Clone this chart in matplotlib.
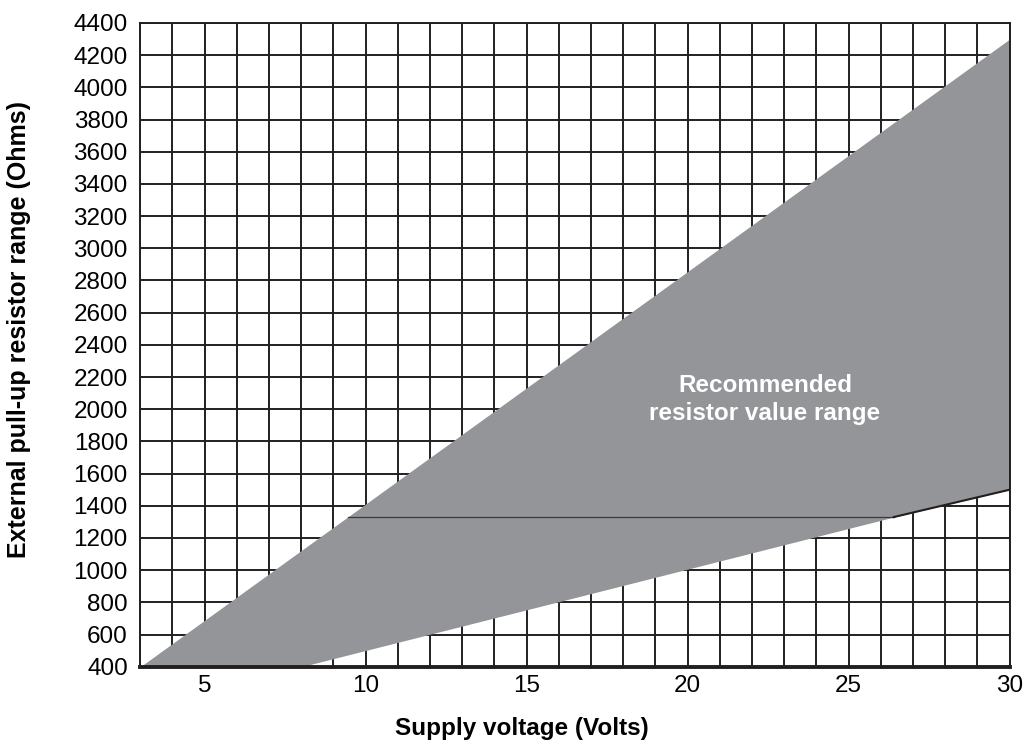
import numpy as np
import matplotlib.pyplot as plt

plt.rcParams['font.family'] = ['Liberation Sans', 'DejaVu Sans']

# boundaries of the recommended region (volts, ohms)
upper_v = [3, 30]
upper_r = [400, 4300]
lower_v = [3, 8, 26.4, 30]
lower_r = [400, 400, 1330, 1500]
shelf_v = [9.45, 26.4]   # thin line drawn inside the region
shelf_r = [1330, 1330]

x_ticks = [5, 10, 15, 20, 25, 30]
y_ticks = list(range(400, 4401, 200))

fig = plt.figure(figsize=(10.24, 7.4), dpi=100)
ax = fig.add_axes([0.137, 0.099, 0.849, 0.870])

# fill between upper and lower boundary on a common x grid
xs = np.array(sorted(set(upper_v + lower_v)))
up = np.interp(xs, upper_v, upper_r)
lo = np.interp(xs, lower_v, lower_r)
ax.fill_between(xs, lo, up, color='#939598', linewidth=0, zorder=2)
ax.plot(shelf_v, shelf_r, color='#3a3a3c', linewidth=0.9, zorder=3)
ax.plot(lower_v[2:], lower_r[2:], color='#231f20', linewidth=1.5, zorder=3)

ax.text(22.4, 2060, 'Recommended\nresistor value range', color='white',
        fontsize=17.5, fontweight='bold', ha='center', va='center', zorder=4,
        linespacing=1.25)

ax.set_xlim(3, 30)
ax.set_ylim(400, 4400)
ax.set_xticks(x_ticks)
ax.set_xticks(range(3, 31), minor=True)
ax.set_yticks(y_ticks)
ax.grid(True, which='both', color='#231f20', linewidth=1.4, zorder=1)
ax.set_axisbelow(True)
ax.tick_params(which='both', length=0)
ax.tick_params(axis='x', pad=6, labelsize=17.5)
ax.tick_params(axis='y', pad=9, labelsize=17.5)

for side in ['left', 'top', 'right']:
    ax.spines[side].set_linewidth(1.4)
    ax.spines[side].set_color('#231f20')
ax.spines['bottom'].set_linewidth(2.8)
ax.spines['bottom'].set_color('#231f20')

fig.text(522 / 1024, 1 - 729 / 740, 'Supply voltage (Volts)', fontsize=17.5,
         fontweight='bold', ha='center', va='center')
fig.text(19 / 1024, 1 - 330 / 740, 'External pull-up resistor range (Ohms)',
         fontsize=18, fontweight='bold', ha='center', va='center', rotation=90)

fig.savefig('out.png', dpi=100)
